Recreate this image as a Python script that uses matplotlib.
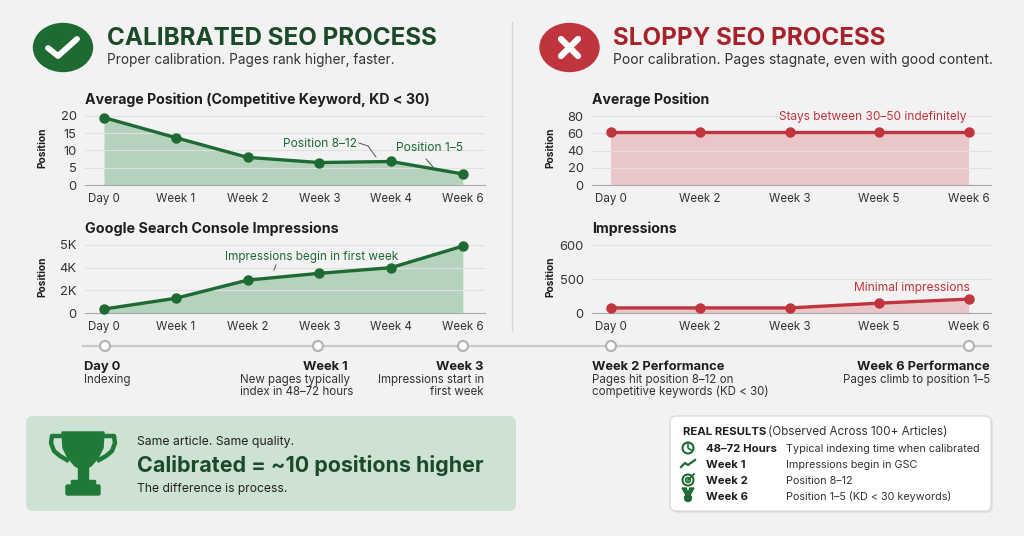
import numpy as np
import matplotlib.pyplot as plt
from matplotlib.patches import Ellipse, Circle, FancyBboxPatch, Polygon, Rectangle

plt.rcParams['font.family'] = ['Inter', 'DejaVu Sans']

W, H = 1024, 536

# ---------------- data ----------------
calib_weeks = ['Day 0', 'Week 1', 'Week 2', 'Week 3', 'Week 4', 'Week 6']
calib_position = [19.5, 13.7, 8.0, 6.5, 6.8, 3.2]
calib_impressions = [350, 1300, 2900, 3500, 4000, 4950]
calib_pos_ticks = [0, 5, 10, 15, 20]
calib_imp_ticks = [0, 2000, 4000, 5000]
calib_imp_labels = ['0', '2K', '4K', '5K']

sloppy_weeks = ['Day 0', 'Week 2', 'Week 3', 'Week 5', 'Week 6']
sloppy_position = [62, 62, 62, 62, 62]
sloppy_impressions = [75, 75, 75, 145, 205]
sloppy_pos_ticks = [0, 20, 40, 60, 80]
sloppy_imp_ticks = [0, 500, 600]
sloppy_imp_labels = ['0', '500', '600']

real_labels = ['48–72 Hours', 'Week 1', 'Week 2', 'Week 6']
real_texts = ['Typical indexing time when calibrated', 'Impressions begin in GSC',
              'Position 8–12', 'Position 1–5 (KD < 30 keywords)']

# colours
BG = '#f2f2f2'
GREEN = '#1d6b33'
GREEN_DARK = '#1b4a2b'
GREEN_FILL = '#b5d3bc'
RED = '#c0353d'
RED_DARK = '#a8222b'
RED_FILL = '#ebc6c8'
INK = '#1e1e1e'
GREY_TXT = '#333333'

fig = plt.figure(figsize=(W / 100, H / 100), dpi=100, facecolor=BG)
bg = fig.add_axes([0, 0, 1, 1])
bg.set_xlim(0, W)
bg.set_ylim(H, 0)
bg.axis('off')


def txt(x, y, s, size, color=INK, weight='normal', ha='left', va='baseline', ax=None, **kw):
    ax = ax or bg
    return ax.text(x, y, s, fontsize=size, color=color, fontweight=weight,
                   ha=ha, va=va, **kw)


def chart(box, labels, values, ticks, ticklabels, color, fill, xlim, ylim, even=False):
    l, t, r, b = box
    ax = fig.add_axes([l / W, 1 - b / H, (r - l) / W, (b - t) / H])
    ax.patch.set_alpha(0)
    if even:
        # tick values are drawn evenly spaced, as in the original
        knots = list(ticks) + [2 * ticks[-1] - ticks[-2]]
        idx = np.arange(len(knots), dtype=float)
        ax.set_yscale('function', functions=(lambda v: np.interp(v, knots, idx),
                                               lambda u: np.interp(u, idx, knots)))
    x = np.arange(len(values))
    ax.fill_between(x, 0, values, color=fill, lw=0, zorder=1)
    ax.plot(x, values, color=color, lw=2.4, marker='o', ms=6.5, zorder=3, clip_on=False)
    ax.set_xlim(xlim)
    ax.set_ylim(ylim)
    ax.set_xticks(x, labels)
    ax.set_yticks(ticks, ticklabels)
    ax.tick_params(axis='x', length=0, labelsize=8.3, colors=GREY_TXT, pad=5.5)
    ax.tick_params(axis='y', length=0, labelsize=9.3, colors=GREY_TXT, pad=6)
    ax.grid(axis='y', color='#e0e0e0', lw=0.8, zorder=0)
    for s in ['top', 'right', 'left']:
        ax.spines[s].set_visible(False)
    ax.spines['bottom'].set_color('#a8a8a8')
    ax.set_ylabel('Position', fontsize=7.4, fontweight='bold', color=INK)
    ax.yaxis.set_label_coords(-0.093, 0.5)
    return ax


# ---------------- headers ----------------
bg.add_patch(Ellipse((63, 47.5), 59, 48, color='#1d6a33'))
bg.plot([48, 58, 77], [48, 56, 39], color='white', lw=4.2, solid_capstyle='round',
        solid_joinstyle='round')
t1 = txt(107, 45, 'CALIBRATED SEO PROCESS', 15, GREEN_DARK, 'bold')
t2 = txt(107, 64, 'Proper calibration. Pages rank higher, faster.', 9.5, GREY_TXT)

bg.add_patch(Ellipse((569.5, 47.5), 59, 48, color=RED))
bg.plot([561, 578], [39, 56], color='white', lw=4.5, solid_capstyle='round')
bg.plot([561, 578], [56, 39], color='white', lw=4.5, solid_capstyle='round')
t3 = txt(613, 45, 'SLOPPY SEO PROCESS', 15, RED_DARK, 'bold')
t4 = txt(613, 64, 'Poor calibration. Pages stagnate, even with good content.', 9.5, GREY_TXT)

# divider
bg.plot([512, 512], [22, 330], color='#d6d6d6', lw=1)

# ---------------- charts ----------------
t5 = txt(85, 104, 'Average Position (Competitive Keyword, KD < 30)', 9.5, INK, 'bold')
chart((85, 110, 485, 185), calib_weeks, calib_position, calib_pos_ticks,
      [str(v) for v in calib_pos_ticks], GREEN, GREEN_FILL, (-0.265, 5.31), (0, 21.7))

t6 = txt(85, 233, 'Google Search Console Impressions', 9.5, INK, 'bold')
chart((85, 240, 485, 313), calib_weeks, calib_impressions, calib_imp_ticks,
      calib_imp_labels, GREEN, GREEN_FILL, (-0.265, 5.31), (0, 5220), even=True)

t7 = txt(592, 104, 'Average Position', 9.5, INK, 'bold')
chart((592, 110, 991, 185), sloppy_weeks, sloppy_position, sloppy_pos_ticks,
      [str(v) for v in sloppy_pos_ticks], RED, RED_FILL, (-0.21, 4.25), (0, 87))

t8 = txt(592, 233, 'Impressions', 9.5, INK, 'bold')
chart((592, 240, 991, 313), sloppy_weeks, sloppy_impressions, sloppy_imp_ticks,
      sloppy_imp_labels, RED, RED_FILL, (-0.21, 4.25), (0, 615), even=True)

# overlay for chart annotations (drawn above the chart grids)
fg = fig.add_axes([0, 0, 1, 1], zorder=10)
fg.set_xlim(0, W)
fg.set_ylim(H, 0)
fg.axis('off')

a1 = txt(320, 147, 'Position 8–12', 8.7, GREEN, ha='center', ax=fg)
fg.plot([359, 368, 376], [143, 146, 157], color='#555555', lw=0.7)
a2 = txt(430, 151, 'Position 1–5', 8.7, GREEN, ha='center', ax=fg)
fg.plot([426, 433], [159, 167], color='#555555', lw=0.7)
a3 = txt(312, 260, 'Impressions begin in first week', 8.7, GREEN, ha='center', ax=fg)
fg.plot([274, 276], [270, 265], color='#555555', lw=0.7)
a4 = txt(873, 120, 'Stays between 30–50 indefinitely', 8.7, RED, ha='center', ax=fg,
         bbox=dict(facecolor=BG, edgecolor='none', pad=1))
a5 = txt(912, 291, 'Minimal impressions', 8.7, RED, ha='center', ax=fg)

# ---------------- timeline ----------------
bg.plot([83, 991], [346, 346], color='#c9c9c9', lw=1.6, zorder=1)
for cx in [105, 318, 463, 611, 969]:
    bg.add_patch(Circle((cx, 346), 5, facecolor='white', edgecolor='#b5b5b5', lw=1.6, zorder=2))

txt(84, 370, 'Day 0', 9.3, INK, 'bold')
txt(84, 383, 'Indexing', 8.3, GREY_TXT)
txt(348, 370, 'Week 1', 9.3, INK, 'bold', ha='right')
txt(240, 383, 'New pages typically', 8.3, GREY_TXT)
txt(240, 395, 'index in 48–72 hours', 8.3, GREY_TXT)
txt(484, 370, 'Week 3', 9.3, INK, 'bold', ha='right')
txt(484, 383, 'Impressions start in', 8.3, GREY_TXT, ha='right')
txt(484, 395, 'first week', 8.3, GREY_TXT, ha='right')
txt(592, 370, 'Week 2 Performance', 9.3, INK, 'bold')
txt(592, 383, 'Pages hit position 8–12 on', 8.3, GREY_TXT)
txt(592, 395, 'competitive keywords (KD < 30)', 8.3, GREY_TXT)
txt(990, 370, 'Week 6 Performance', 9.3, INK, 'bold', ha='right')
txt(990, 383, 'Pages climb to position 1–5', 8.3, GREY_TXT, ha='right')

# ---------------- bottom-left summary box ----------------
bg.add_patch(FancyBboxPatch((26, 416), 490, 95, boxstyle='round,pad=0,rounding_size=7',
                            facecolor='#cde2d2', edgecolor='none'))
TROPHY = '#1f7a38'
bg.add_patch(Polygon([(62, 432), (104, 432), (103, 448), (98, 458), (91, 466), (85, 469),
                      (81, 469), (75, 466), (68, 458), (63, 448)], color=TROPHY))
bg.plot([63, 52, 51, 54, 60, 67], [436, 436, 443, 451, 456, 460], color=TROPHY, lw=3.2,
        solid_joinstyle='round')
bg.plot([103, 114, 115, 112, 106, 99], [436, 436, 443, 451, 456, 460], color=TROPHY, lw=3.2,
        solid_joinstyle='round')
bg.add_patch(Rectangle((78, 467), 10, 15, color=TROPHY))
bg.add_patch(Rectangle((71, 480), 24, 6, color=TROPHY))
bg.add_patch(FancyBboxPatch((66, 485), 34, 10, boxstyle='round,pad=0,rounding_size=1.5',
                            color=TROPHY))
t9 = txt(137, 445, 'Same article. Same quality.', 10, '#222222')
t10 = txt(137, 472, 'Calibrated = ~10 positions higher', 15, GREEN_DARK, 'bold')
t11 = txt(137, 492, 'The difference is process.', 10, '#222222')

# ---------------- bottom-right results box ----------------
bg.add_patch(FancyBboxPatch((672, 418), 321, 95, boxstyle='round,pad=0,rounding_size=6',
                            facecolor='#d9d9d9', edgecolor='none', alpha=0.6))
bg.add_patch(FancyBboxPatch((670, 416), 321, 95, boxstyle='round,pad=0,rounding_size=6',
                            facecolor='white', edgecolor='#d4d4d4', lw=0.8))
t12 = txt(683, 435, 'REAL RESULTS', 8.2, INK, 'bold')
fig.canvas.draw()
rend = fig.canvas.get_renderer()
bb = t12.get_window_extent(rend)
txt(683 + bb.width + 2, 435, '(Observed Across 100+ Articles)', 8.4, GREY_TXT)

row_y = [452, 468, 484, 500]
for y, lab, desc in zip(row_y, real_labels, real_texts):
    txt(706, y, lab, 8.2, INK, 'bold')
    txt(786, y, desc, 7.8, GREY_TXT)

# icons
ic = row_y
bg.add_patch(Circle((688, ic[0] - 4), 5.5, facecolor='none', edgecolor=GREEN, lw=1.5))
bg.plot([688, 688, 691], [ic[0] - 8, ic[0] - 4, ic[0] - 2], color=GREEN, lw=1.2)
bg.plot([681, 685, 688, 695], [ic[1] - 1, ic[1] - 5, ic[1] - 3, ic[1] - 8], color=GREEN, lw=1.6)
bg.add_patch(Circle((688, ic[2] - 4), 5.5, facecolor='none', edgecolor=GREEN, lw=1.5))
bg.add_patch(Circle((688, ic[2] - 4), 2.3, facecolor='none', edgecolor=GREEN, lw=1.3))
bg.plot([688, 694], [ic[2] - 4, ic[2] - 10], color=GREEN, lw=1.2)
bg.add_patch(Polygon([(682, ic[3] - 12), (686, ic[3] - 12), (688, ic[3] - 7),
                      (690, ic[3] - 12), (694, ic[3] - 12), (690, ic[3] - 5),
                      (686, ic[3] - 5)], color=GREEN))
bg.add_patch(Circle((688, ic[3] - 2), 3.5, color=GREEN))

# fit the main texts to the widths measured on the reference
targets = [(t1, 330), (t2, 287), (t3, 273), (t4, 377), (t5, 347), (t6, 254),
           (t7, 118), (t8, 86), (t9, 158), (t10, 346), (t11, 151),
           (a1, 74), (a2, 67), (a3, 172), (a4, 186)]
for t, w in targets:
    cur = t.get_window_extent(rend).width
    t.set_fontsize(t.get_fontsize() * w / cur)

fig.savefig('out.png', dpi=100, facecolor=BG)
